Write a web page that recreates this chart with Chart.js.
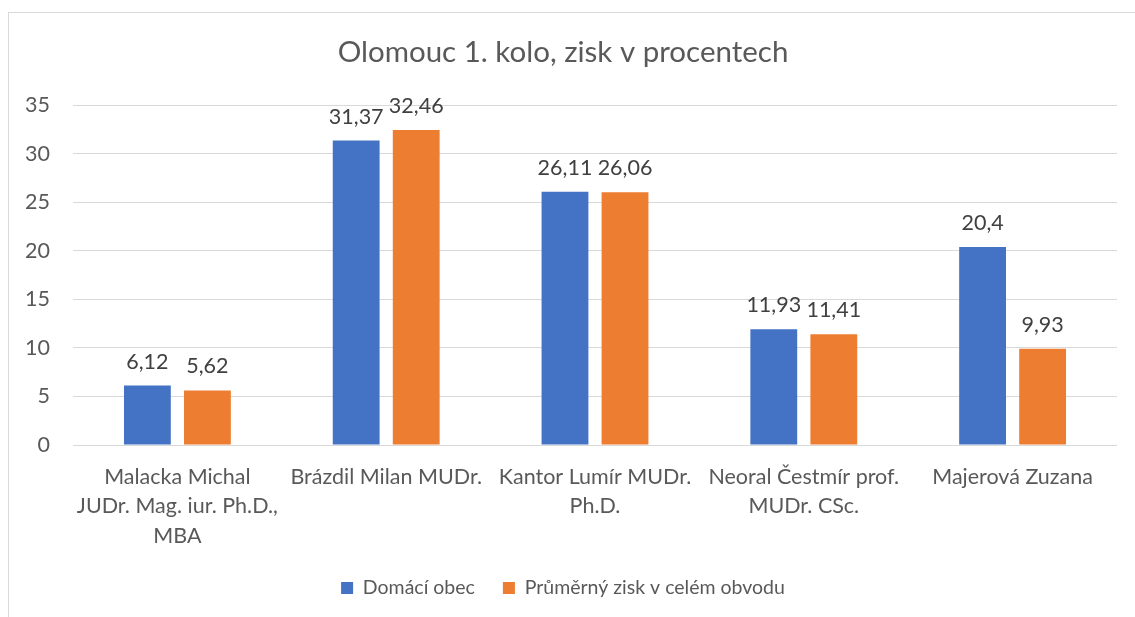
<!DOCTYPE html>
<html>
<head>
<meta charset="utf-8">
<script src="https://cdn.jsdelivr.net/npm/chart.js@4/dist/chart.umd.min.js"></script>
<style>
  html, body { margin: 0; padding: 0; background: #fff; overflow: hidden; }
  #frame { position: absolute; left: 8px; top: 12px; width: 1140px; height: 620px; border: 1px solid #d9d9d9; }
  #wrap { position: absolute; left: 0; top: 0; width: 1126px; height: 604px; }
</style>
</head>
<body>
<div id="frame"><div id="wrap"><canvas id="chart"></canvas></div></div>
<script>
// ── Data ─────────────────────────────────────────────────────────────────────
const candidates = [
  ['Malacka Michal', 'JUDr. Mag. iur. Ph.D.,', 'MBA'],
  ['Brázdil Milan MUDr.'],
  ['Kantor Lumír MUDr.', 'Ph.D.'],
  ['Neoral Čestmír prof.', 'MUDr. CSc.'],
  ['Majerová Zuzana'],
];
const domaciObec   = [6.12, 31.37, 26.11, 11.93, 20.4];
const prumernyZisk = [5.62, 32.46, 26.06, 11.41, 9.93];
const yTicks = [0, 5, 10, 15, 20, 25, 30, 35];

const FONT = 'Lato, "Open Sans", sans-serif';
const TXT  = '#595959';

// Data labels above each bar (Czech decimal comma)
const barLabels = {
  id: 'barLabels',
  afterDatasetsDraw(chart) {
    const { ctx } = chart;
    ctx.save();
    ctx.font = `21.5px ${FONT}`;
    ctx.fillStyle = '#404040';
    ctx.textAlign = 'center';
    ctx.textBaseline = 'alphabetic';
    chart.data.datasets.forEach((ds, i) => {
      chart.getDatasetMeta(i).data.forEach((bar, j) => {
        ctx.fillText(String(ds.data[j]).replace('.', ','), bar.x, bar.y - 17);
      });
    });
    ctx.restore();
  }
};

new Chart(document.getElementById('chart'), {
  type: 'bar',
  data: {
    labels: candidates,
    datasets: [
      { label: 'Domácí obec', data: domaciObec, backgroundColor: '#4472C4' },
      { label: 'Průměrný zisk v celém obvodu', data: prumernyZisk, backgroundColor: '#ED7D31' },
    ]
  },
  options: {
    responsive: true,
    maintainAspectRatio: false,
    animation: false,
    datasets: { bar: { categoryPercentage: 0.575, barPercentage: 0.78 } },
    layout: { padding: { left: 0, right: 18, top: 0, bottom: 9.25 } },
    plugins: {
      title: {
        display: true,
        text: 'Olomouc 1. kolo, zisk v procentech',
        color: TXT,
        font: { family: FONT, size: 29.5, weight: 'normal', lineHeight: 1.2 },
        padding: { top: 22, bottom: 35 }
      },
      legend: {
        position: 'bottom',
        labels: {
          color: TXT,
          font: { family: FONT, size: 19.5 },
          boxWidth: 12, boxHeight: 12,
          padding: 28
        }
      },
      tooltip: { enabled: false }
    },
    scales: {
      x: {
        grid: { display: false },
        border: { display: false },
        ticks: {
          color: TXT, padding: 10, maxRotation: 0, autoSkip: false,
          font: { family: FONT, size: 21.5, lineHeight: 1.35 }
        },
        afterFit: s => { s.height = 105.25; }
      },
      y: {
        min: 0, max: 35,
        afterBuildTicks: s => { s.ticks = yTicks.map(v => ({ value: v })); },
        grid: { color: '#d9d9d9', drawTicks: false },
        border: { display: false },
        ticks: { color: TXT, padding: 23, font: { family: FONT, size: 21.5 } },
        afterFit: s => { s.width = 64; }
      }
    }
  },
  plugins: [barLabels]
});
</script>
</body>
</html>
